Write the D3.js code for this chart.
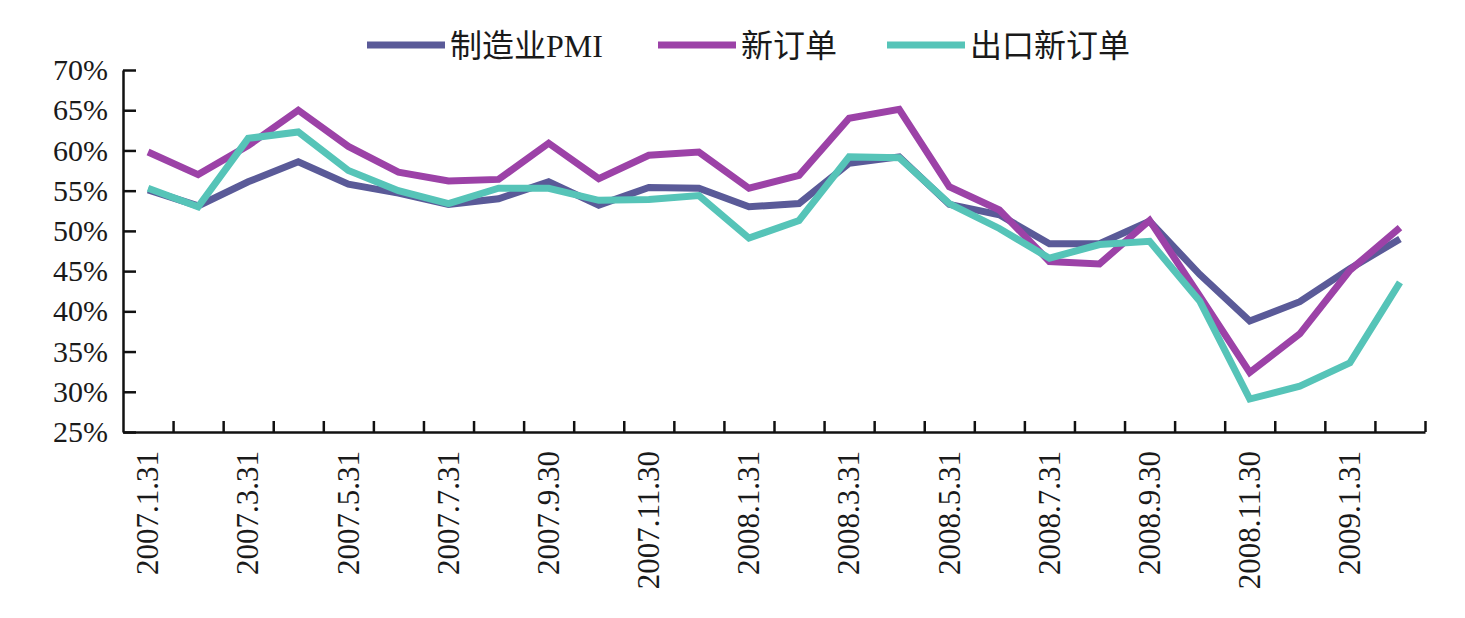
<!DOCTYPE html>
<html lang="zh">
<head>
<meta charset="UTF-8">
<script src="https://cdn.jsdelivr.net/npm/d3@7/dist/d3.min.js"></script>
<title>PMI</title>
<style>
  body { margin: 0; background: #fff; }
  text { font-family: "Liberation Serif", "Noto Sans CJK SC", serif; }
</style>
</head>
<body>
<svg id="mainsvg" width="1465" height="618"></svg>
<script>
  const months = ['2007.1.31', '2007.2.28', '2007.3.31', '2007.4.30', '2007.5.31', '2007.6.30',
    '2007.7.31', '2007.8.31', '2007.9.30', '2007.10.31', '2007.11.30', '2007.12.31',
    '2008.1.31', '2008.2.29', '2008.3.31', '2008.4.30', '2008.5.31', '2008.6.30',
    '2008.7.31', '2008.8.31', '2008.9.30', '2008.10.31', '2008.11.30', '2008.12.31',
    '2009.1.31', '2009.2.28']
  const pmi = [55.1, 53.1, 56.1, 58.6, 55.8, 54.7, 53.3, 54.0, 56.1, 53.2, 55.4, 55.3,
    53.0, 53.4, 58.4, 59.2, 53.3, 52.0, 48.4, 48.4, 51.2, 44.6, 38.8, 41.2, 45.3, 49.0]
  const newOrders = [59.8, 57.0, 60.6, 65.0, 60.5, 57.3, 56.2, 56.4, 60.9, 56.5, 59.4, 59.8,
    55.3, 56.9, 64.0, 65.1, 55.5, 52.6, 46.2, 45.9, 51.3, 41.9, 32.4, 37.2, 45.1, 50.4]
  const exportOrders = [55.3, 53.0, 61.5, 62.3, 57.5, 55.0, 53.4, 55.3, 55.3, 53.8, 53.9, 54.4,
    49.1, 51.3, 59.2, 59.1, 53.4, 50.3, 46.6, 48.3, 48.7, 41.3, 29.1, 30.7, 33.6, 43.6]
  const yTicks = [25, 30, 35, 40, 45, 50, 55, 60, 65, 70]
  const xLabels = months.filter((d, i) => i % 2 === 0)
  const seriesNames = ['制造业PMI', '新订单', '出口新订单']
  const colors = ['#5a5a98', '#9c42a7', '#56c4b8']

  const series = [pmi, newOrders, exportOrders]

  const svg = d3.select('#mainsvg')
  const margin = { left: 123, top: 70 }
  const innerWidth = 1425 - margin.left
  const innerHeight = 432 - margin.top

  const g = svg.append('g').attr('transform', `translate(${margin.left},${margin.top})`)

  const xScale = d3.scaleBand().domain(months).range([0, innerWidth]).padding(0)
  const xIdx = d3.scaleLinear().domain([0, months.length]).range([0, innerWidth])
  const yScale = d3.scaleLinear().domain([25, 70]).range([innerHeight, 0])

  // y axis
  const yAxis = d3.axisLeft(yScale)
    .tickValues(yTicks)
    .tickFormat(d => d + '%')
    .tickSizeInner(-13)
    .tickSizeOuter(0)
    .tickPadding(15)
  const yg = g.append('g').call(yAxis)
  yg.selectAll('text').attr('font-size', 30).attr('fill', '#1a1a1a')
    .attr('font-family', '"Liberation Serif", serif')

  // x axis: ticks sit on band edges
  const xTickAxis = d3.axisBottom(xIdx)
    .tickValues(d3.range(1, months.length + 1))
    .tickFormat('')
    .tickSizeInner(-11)
    .tickSizeOuter(0)
  g.append('g').attr('transform', `translate(0,${innerHeight})`).call(xTickAxis)

  g.selectAll('.domain, .tick line').attr('stroke', '#111').attr('stroke-width', 2.5)

  // x labels, every other month, vertical
  g.append('g').selectAll('text')
    .data(xLabels)
    .join('text')
    .attr('transform', d => `translate(${xScale(d) + xScale.bandwidth() / 2},${innerHeight + 19}) rotate(-90)`)
    .attr('text-anchor', 'end')
    .attr('dy', '0.33em')
    .attr('font-size', 31)
    .attr('fill', '#1a1a1a')
    .attr('font-family', '"Liberation Serif", serif')
    .text(d => d)

  // lines
  const line = d3.line()
    .x((d, i) => xScale(months[i]) + xScale.bandwidth() / 2)
    .y(d => yScale(d))
  series.forEach((s, k) => {
    g.append('path')
      .attr('d', line(s))
      .attr('fill', 'none')
      .attr('stroke', colors[k])
      .attr('stroke-width', 7)
      .attr('stroke-linejoin', 'miter')
  })

  // legend
  const legendX = [367, 658, 887]
  const legend = svg.append('g').attr('transform', 'translate(0,45)')
  seriesNames.forEach((name, k) => {
    legend.append('line')
      .attr('x1', legendX[k]).attr('x2', legendX[k] + 78)
      .attr('y1', 0).attr('y2', 0)
      .attr('stroke', colors[k]).attr('stroke-width', 7)
    legend.append('text')
      .attr('x', legendX[k] + 83)
      .attr('y', 0)
      .attr('dy', '0.36em')
      .attr('font-size', 32)
      .attr('fill', '#1a1a1a')
      .text(name)
  })
</script>
</body>
</html>
